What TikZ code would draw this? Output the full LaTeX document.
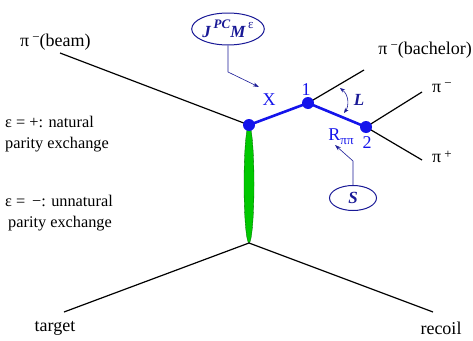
\documentclass[tikz,border=0pt]{standalone}
\usepackage{fontspec}
\setmainfont{Liberation Serif}
\usetikzlibrary{arrows.meta,shapes.geometric}
\definecolor{lblue}{RGB}{20,20,235}
\definecolor{nblue}{RGB}{25,25,150}
\definecolor{pgreen}{RGB}{0,200,0}
\newcommand{\mysup}[1]{\raisebox{0.55ex}{\fontsize{13}{14}\selectfont #1}}
\newcommand{\mysub}[1]{\raisebox{-0.45ex}{\fontsize{13}{14}\selectfont #1}}
\begin{document}
\begin{tikzpicture}[x=1pt,y=-1pt,
  lbl/.style={inner sep=0pt,font=\fontsize{18}{20}\selectfont},
  blbl/.style={lbl,text=lblue},
  leg/.style={inner sep=0pt,anchor=west,font=\fontsize{16.3}{18}\selectfont},
  track/.style={line width=1.2pt,black},
  res/.style={line width=2.6pt,lblue},
  vtx/.style={circle,fill=lblue,inner sep=0pt,minimum size=12pt},
  qn/.style={ellipse,draw=nblue,line width=1pt,text=nblue,inner sep=0pt},
  pt/.style={-{Stealth[length=6pt,width=4pt]},nblue,line width=0.6pt}
]
\useasboundingbox (0,0) rectangle (473,340);
% coordinates
\coordinate (beamE) at (60,53);
\coordinate (tgtE) at (64,312);
\coordinate (recE) at (433,312);
\coordinate (bachE) at (364,70);
\coordinate (pimE) at (422,92);
\coordinate (pipE) at (422,160);
% exchange
\node[ellipse,draw=green!40!black,line width=0.3pt,fill=pgreen,minimum width=10pt,minimum height=118pt,inner sep=0pt] (exch) at (249,184) {};
\coordinate (A) at (249,125);
\coordinate (B) at (249,243);
% tracks
\draw[track] (beamE) -- (A);
\draw[track] (tgtE) -- (B) -- (recE);
\coordinate (V1) at (308,103);
\coordinate (V2) at (366,127);
\draw[track] (V1) -- (bachE);
\draw[track] (pimE) -- (V2) -- (pipE);
\draw[res] (A) -- (V1) -- (V2);
\node[vtx] (vA) at (A) {};
\node[vtx] (v1) at (V1) {};
\node[vtx] (v2) at (V2) {};
% labels
\node[lbl,anchor=west] (lbeam) at (20,42) {π\,\mysup{−}(beam)};
\node[lbl,anchor=east] (lbach) at (472,50) {π\,\mysup{−}(bachelor)};
\node[lbl,anchor=west] (lpim) at (432,88) {π\,\mysup{−}};
\node[lbl,anchor=west] (lpip) at (432,157) {π\,\mysup{+}};
\node[lbl] (ltgt) at (55,328) {target};
\node[lbl] (lrec) at (441,328) {recoil};
\node[blbl] (lX) at (269,100) {X};
\node[blbl] (l1) at (306,90) {1};
\node[blbl] (l2) at (367,143) {2};
\node[blbl] (lR) at (341,137) {R\mysub{ππ}};
\node[lbl,text=nblue,font=\fontsize{17}{18}\selectfont\bfseries\itshape] (lL) at (359,100) {L};
% quantum numbers
\node[qn,minimum width=70pt,minimum height=32pt,font=\fontsize{17}{18}\selectfont\bfseries\itshape] (jpc) at (228,29) {J\,\raisebox{1.2ex}{\fontsize{13}{14}\selectfont PC}M\,\raisebox{1.2ex}{\fontsize{13}{14}\selectfont\normalfont ε}};
\node[qn,minimum width=47pt,minimum height=25pt,font=\fontsize{17}{18}\selectfont\bfseries\itshape] (sS) at (353,198) {S};
\coordinate (jbend) at (228,72);
\coordinate (xtip) at (259,87);
\draw[pt] (jpc.south) -- (jbend) -- (xtip);
\coordinate (sbend) at (353,161);
\coordinate (rtip) at (335,145);
\draw[pt] (sS.north) -- (sbend) -- (rtip);
% L arc
\coordinate (la) at (340,88);
\coordinate (lb) at (344,113);
\draw[{Stealth[length=5pt,width=4pt]}-{Stealth[length=5pt,width=4pt]},nblue,line width=0.6pt] (la) .. controls (349,95) and (349,106) .. (lb);
% legend
\node[leg] (e1) at (5,122) {ε = +: natural};
\node[leg] (e2) at (5,145) {parity exchange};
\node[leg] (e3) at (5,201) {ε = \,−: unnatural};
\node[leg] (e4) at (8,224) {parity exchange};
\end{tikzpicture}
\end{document}
